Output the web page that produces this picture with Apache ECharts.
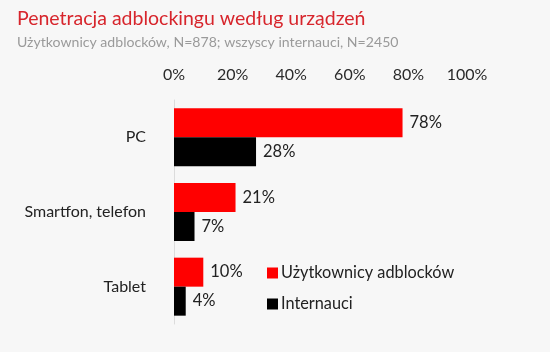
<!DOCTYPE html>
<html><head><meta charset="utf-8">
<script src="https://cdn.jsdelivr.net/npm/echarts@6/dist/echarts.min.js"></script>
<style>html,body{margin:0;padding:0;background:#f7f7f7;}#c{width:550px;height:352px;}</style>
</head><body><div id="c"></div>
<script>
const categories = ['PC', 'Smartfon, telefon', 'Tablet'];
const adblockUsers = [78, 21, 10];
const internauts = [28, 7, 4];
const seriesNames = ['Użytkownicy adblocków', 'Internauci'];
const tickValues = [0, 20, 40, 60, 80, 100];

const chart = echarts.init(document.getElementById('c'));
const F = 'Lato, "Noto Sans", sans-serif';
chart.setOption({
  backgroundColor: '#f7f7f7',
  animation: false,
  title: {
    text: 'Penetracja adblockingu według urządzeń',
    subtext: 'Użytkownicy adblocków, N=878; wszyscy internauci, N=2450',
    left: 12, top: 4, itemGap: 6,
    textStyle: {fontFamily: F, fontSize: 19.5, fontWeight: 'normal', color: '#d7252c'},
    subtextStyle: {fontFamily: F, fontSize: 14.1, color: '#9a9a9a'}
  },
  legend: {
    orient: 'vertical', left: 262, top: 260, itemWidth: 11, itemHeight: 11, itemGap: 15,
    icon: 'rect',
    textStyle: {fontFamily: F, fontSize: 16.3, color: '#222', padding: [0,0,0,-2]},
    data: seriesNames
  },
  grid: {left: 174, right: 83, top: 100, bottom: 28},
  xAxis: {
    type: 'value', position: 'top', min: 0, max: 100, interval: 20,
    axisLine: {show: false}, axisTick: {show: false}, splitLine: {show: false},
    axisLabel: {formatter: v => tickValues.includes(v) ? v + '%' : '', fontFamily: F, fontSize: 16, color: '#2a2a2a', margin: 17}
  },
  yAxis: {
    type: 'category', inverse: true, data: categories,
    axisLine: {show: true, lineStyle: {color: '#dcdcdc'}}, axisTick: {show: false},
    axisLabel: {fontFamily: F, fontSize: 16, color: '#222', margin: 28}
  },
  series: [
    {name: seriesNames[0], type: 'bar', data: adblockUsers, barWidth: 29, barGap: '0%',
     itemStyle: {color: '#ff0000'},
     label: {show: true, position: 'right', formatter: '{c}%', fontFamily: F, fontSize: 16.5, color: '#222', distance: 7}},
    {name: seriesNames[1], type: 'bar', data: internauts, barWidth: 29,
     itemStyle: {color: '#000000'},
     label: {show: true, position: 'right', formatter: '{c}%', fontFamily: F, fontSize: 16.5, color: '#222', distance: 7}}
  ]
});
</script></body></html>
